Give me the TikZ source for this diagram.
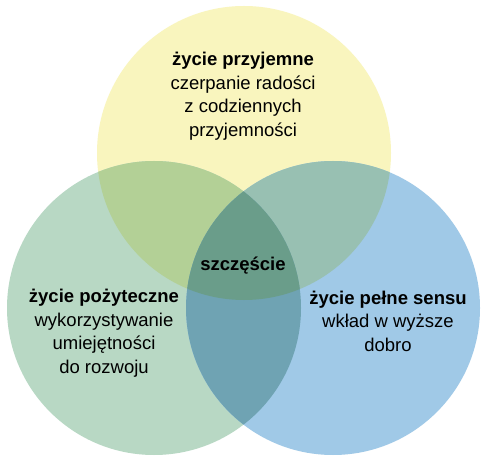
\documentclass[tikz,border=0pt]{standalone}
\usepackage{fontspec}
\setmainfont{Liberation Sans}
\definecolor{cYel}{HTML}{F9F5BE}
\definecolor{cGrn}{HTML}{B8D8C4}
\definecolor{cBlu}{HTML}{A0C9E7}
\definecolor{cYG}{HTML}{B3D096}
\definecolor{cYB}{HTML}{98C0B2}
\definecolor{cGB}{HTML}{6FA3B3}
\definecolor{cAll}{HTML}{6A9D8A}
\begin{document}
\begin{tikzpicture}[x=1pt,y=-1pt,
  lbl/.style={align=center,font=\fontsize{18.5}{23.5}\selectfont,text=black,inner sep=0pt}]
\useasboundingbox[fill=white] (0,0) rectangle (487,462);
\def\R{147}
\coordinate (ct) at (244,153);
\coordinate (cl) at (154,308);
\coordinate (cr) at (333,308);
% single circles
\fill[cYel] (ct) circle (\R);
\fill[cGrn] (cl) circle (\R);
\fill[cBlu] (cr) circle (\R);
% pairwise overlaps
\begin{scope}\clip (ct) circle (\R); \fill[cYG] (cl) circle (\R); \end{scope}
\begin{scope}\clip (ct) circle (\R); \fill[cYB] (cr) circle (\R); \end{scope}
\begin{scope}\clip (cl) circle (\R); \fill[cGB] (cr) circle (\R); \end{scope}
% centre
\begin{scope}\clip (ct) circle (\R); \clip (cl) circle (\R); \fill[cAll] (cr) circle (\R); \end{scope}
% labels
\node[lbl] (top) at (243,96) {\textbf{życie przyjemne}\\czerpanie radości\\z codziennych\\przyjemności};
\node[lbl] (mid) at (243,266) {\textbf{szczęście}};
\node[lbl] (lft) at (104,333) {\textbf{życie pożyteczne}\\wykorzystywanie\\umiejętności\\do rozwoju};
\node[lbl] (rgt) at (388,321) {\textbf{życie pełne sensu}\\wkład w wyższe\\dobro};
\end{tikzpicture}
\end{document}
